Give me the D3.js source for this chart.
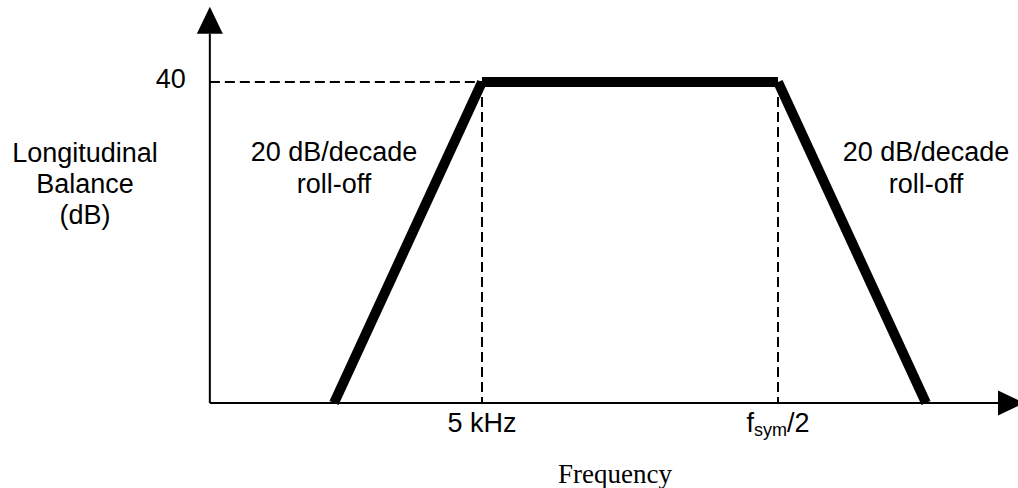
<!DOCTYPE html>
<html>
<head>
<meta charset="utf-8">
<script src="https://cdn.jsdelivr.net/npm/d3@7"></script>
<style>
  html, body { margin: 0; padding: 0; background: #fff; }
  svg { display: block; }
  text { font-family: "Liberation Sans", Arial, sans-serif; fill: #000; }
</style>
</head>
<body>
<svg id="chart" width="1018" height="488"></svg>
<script>
// ---- data ----
const responseFreq = [50, 5e3, 5e7, 5e9];      // Hz (schematic)
const responseDb   = [0, 40, 40, 0];           // dB
const xTickValues  = [5e3, 5e7];
const xTickLabels  = ["5 kHz", "fsym/2"];
const yTickValues  = [40];
const yTickLabels  = ["40"];
const axisFreqRange = [1.05, 5e10];
const axisDbRange   = [0, 46];
const slopeLabels  = [["20 dB/decade", "roll-off"], ["20 dB/decade", "roll-off"]];
const slopeLabelFreq = [50, 5e9];
const yTitle = ["Longitudinal", "Balance", "(dB)"];
const xTitle = "Frequency";

// ---- scales ----
const svg = d3.select("#chart");
const x = d3.scaleLog().domain([5e3, 5e7]).range([482, 778]);
const y = d3.scaleLinear().domain([0, 40]).range([403, 82]);

const x0 = x(axisFreqRange[0]), x1 = x(axisFreqRange[1]);
const y0 = y(axisDbRange[0]), y1 = y(axisDbRange[1]);

// axes
svg.append("line").attr("x1", x0).attr("x2", x1).attr("y1", y0).attr("y2", y0)
  .attr("stroke", "#000").attr("stroke-width", 2);
svg.append("line").attr("x1", x0).attr("x2", x0).attr("y1", y0).attr("y2", y1)
  .attr("stroke", "#000").attr("stroke-width", 2);
// arrowheads
svg.append("path")
  .attr("d", `M${x0 - 13},${y1} L${x0 + 13},${y1} L${x0},${y1 - 27} Z`)
  .attr("fill", "#000");
svg.append("path")
  .attr("d", `M${x1 - 2},${y0 - 12.5} L${x1 - 2},${y0 + 12.5} L${x1 + 24},${y0} Z`)
  .attr("fill", "#000");

// dashed guides
const dash = "10,5";
yTickValues.forEach(v => {
  svg.append("line").attr("x1", x0).attr("x2", x(xTickValues[0])).attr("y1", y(v)).attr("y2", y(v))
    .attr("stroke", "#000").attr("stroke-width", 2).attr("stroke-dasharray", dash);
});
xTickValues.forEach(v => {
  svg.append("line").attr("x1", x(v)).attr("x2", x(v)).attr("y1", y(40)).attr("y2", y0)
    .attr("stroke", "#000").attr("stroke-width", 2).attr("stroke-dasharray", dash);
});

// response (separate segments with butt caps)
for (let i = 0; i < responseFreq.length - 1; i++) {
  svg.append("line")
    .attr("x1", x(responseFreq[i])).attr("y1", y(responseDb[i]))
    .attr("x2", x(responseFreq[i + 1])).attr("y2", y(responseDb[i + 1]))
    .attr("stroke", "#000").attr("stroke-width", 10).attr("stroke-linecap", "butt");
}

// y tick labels
yTickValues.forEach((v, i) => {
  svg.append("text").attr("x", x0 - 24).attr("y", y(v) + 6)
    .attr("text-anchor", "end").attr("font-size", 27).text(yTickLabels[i]);
});

// x tick labels
xTickValues.forEach((v, i) => {
  const t = svg.append("text").attr("x", x(v)).attr("y", y0 + 29)
    .attr("text-anchor", "middle").attr("font-size", 27);
  const lab = xTickLabels[i];
  if (lab.startsWith("fsym")) {
    t.append("tspan").text("f");
    t.append("tspan").attr("font-size", 18).attr("dy", 4).text("sym");
    t.append("tspan").attr("dy", -4).text(lab.slice(4));
  } else {
    t.text(lab);
  }
});

// slope labels
slopeLabels.forEach((lines, i) => {
  const cx = x(slopeLabelFreq[i]);
  lines.forEach((l, j) => {
    svg.append("text").attr("x", cx).attr("y", 161 + j * 32)
      .attr("text-anchor", "middle").attr("font-size", 27).text(l);
  });
});

// y title
yTitle.forEach((l, j) => {
  svg.append("text").attr("x", 85).attr("y", 162 + j * 31)
    .attr("text-anchor", "middle").attr("font-size", 27).text(l);
});

// x title
svg.append("text").attr("x", 615).attr("y", 483)
  .attr("text-anchor", "middle").attr("font-size", 27)
  .style("font-family", "'Liberation Serif', 'Times New Roman', serif")
  .text(xTitle);
</script>
</body>
</html>
